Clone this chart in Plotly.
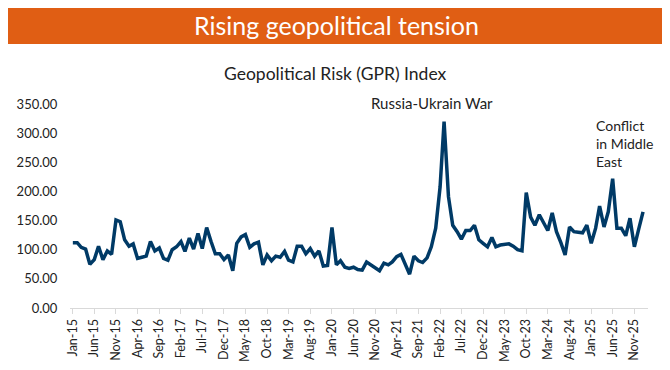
import plotly.graph_objects as go
import pandas as pd

start_month = "2015-01-01"
gpr_values = [
    # 2015
    112, 112, 104, 101, 75, 83, 106, 83, 98, 92, 151, 148,
    # 2016
    117, 106, 110, 85, 87, 89, 114, 98, 103, 85, 82, 100,
    # 2017
    105, 114, 97, 120, 101, 128, 102, 138, 114, 93, 93, 83,
    # 2018
    91, 64, 111, 122, 126, 104, 110, 113, 74, 91, 81, 89,
    # 2019
    87, 97, 82, 79, 106, 106, 93, 102, 89, 98, 72, 73,
    # 2020
    138, 74, 81, 70, 68, 70, 66, 65, 79, 74, 68, 64,
    # 2021
    77, 74, 79, 88, 92, 74, 58, 89, 81, 78, 86, 105,
    # 2022
    137, 208, 320, 191, 142, 131, 118, 133, 133, 142, 117, 111,
    # 2023
    105, 121, 105, 108, 109, 110, 106, 100, 98, 198, 156, 142,
    # 2024
    160, 147, 133, 163, 131, 112, 91, 139, 131, 130, 129, 142,
    # 2025
    111, 137, 175, 139, 165, 222, 137, 137, 124, 154, 105, 135,
    # 2026
    165,
]
months = pd.date_range(start_month, periods=len(gpr_values), freq="MS")

title_text = "Rising geopolitical tension"
subtitle_text = "Geopolitical Risk (GPR) Index"
note_russia = "Russia-Ukrain War"
note_me = "Conflict<br>in Middle<br>East"

FONT = "Lato"
OFF = 8  # page body margin
W, H = 670 - OFF, 370 - OFF
ML, MR, MT, MB = 70 - OFF, 22, 104 - OFF, 62
PW, PH = W - ML - MR, H - MT - MB

def px_x(x):
    return (x - OFF - ML) / PW

def px_y(y):
    return (H - MB - (y - OFF)) / PH

fig = go.Figure()
fig.add_trace(go.Scatter(
    x=months, y=gpr_values, mode="lines",
    line=dict(color="#003A66", width=3.5),
    hoverinfo="skip", showlegend=False,
))

fig.update_layout(
    width=W, height=H,
    margin=dict(l=ML, r=MR, t=MT, b=MB),
    paper_bgcolor="white", plot_bgcolor="white",
    font=dict(family=FONT, size=13, color="#222222"),
    xaxis=dict(
        type="date", automargin=False,
        range=["2014-12-12", "2026-02-05"],
        tick0="2015-01-01", dtick="M5", tickformat="%b-%y",
        tickangle=-90,
        showgrid=False, zeroline=False,
        showline=True, linecolor="#D9D9D9", linewidth=1,
        ticks="outside", ticklen=5, tickcolor="#D9D9D9",
        tickfont=dict(family=FONT, size=12.5, color="#222222"),
    ),
    yaxis=dict(
        range=[0, 350], dtick=50, tickformat=".2f", automargin=False,
        showgrid=False, zeroline=False, showline=False,
        ticks="outside", ticklen=9, tickcolor="rgba(0,0,0,0)",
        tickfont=dict(family=FONT, size=13, color="#222222"),
    ),
    shapes=[dict(
        type="rect", xref="paper", yref="paper",
        x0=px_x(3), x1=px_x(667), y0=px_y(44), y1=px_y(6),
        fillcolor="#E05E14", line=dict(width=0), layer="below",
    )],
    annotations=[
        dict(text=title_text, xref="paper", yref="paper",
             x=px_x(336), y=px_y(25), xanchor="center", yanchor="middle",
             showarrow=False, font=dict(family=FONT, size=25, color="white")),
        dict(text=subtitle_text, xref="paper", yref="paper",
             x=px_x(335), y=px_y(73), xanchor="center", yanchor="middle",
             showarrow=False, font=dict(family=FONT, size=17.5, color="#222222")),
        dict(text=note_russia, xref="paper", yref="paper",
             x=px_x(432), y=px_y(103), xanchor="center", yanchor="middle",
             showarrow=False, font=dict(family=FONT, size=15, color="#222222")),
        dict(text=note_me, xref="paper", yref="paper", align="left",
             x=px_x(594), y=px_y(143), xanchor="left", yanchor="middle",
             showarrow=False, font=dict(family=FONT, size=14, color="#222222")),
    ],
)

fig.write_html("out.html")
